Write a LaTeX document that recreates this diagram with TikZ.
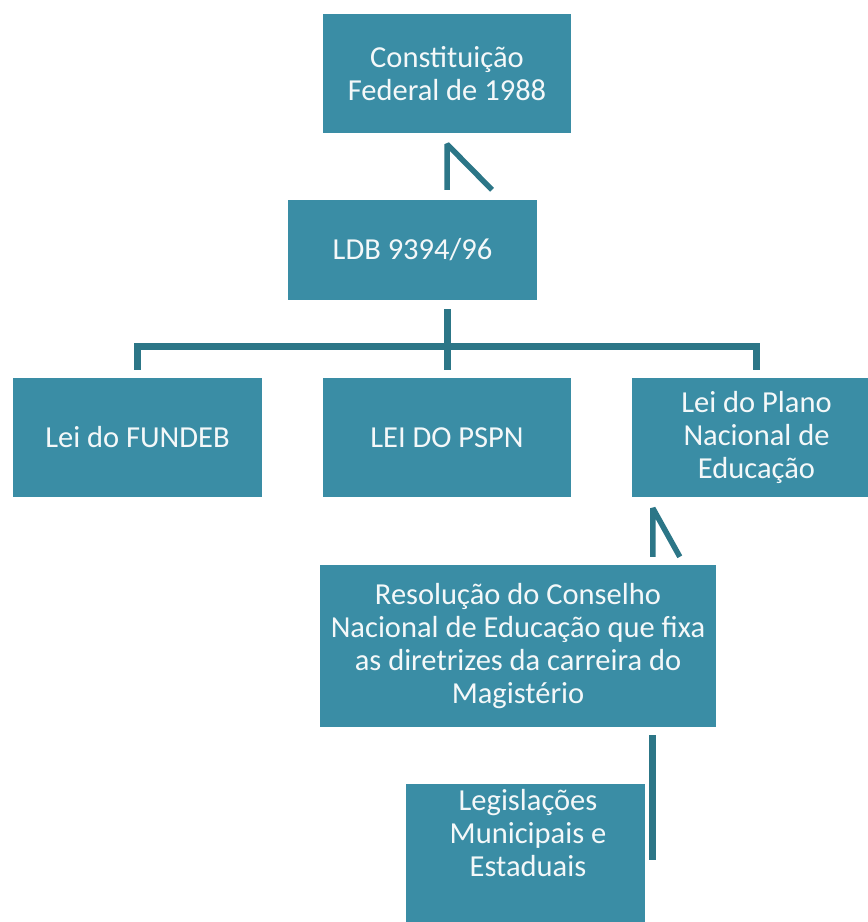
\documentclass[tikz,border=0pt]{standalone}
\usepackage{fontspec}
\setmainfont{Carlito}
\usetikzlibrary{calc}
\definecolor{boxteal}{HTML}{3A8DA5}
\definecolor{linkteal}{HTML}{2C7687}
\definecolor{boxfont}{HTML}{F4F8F9}

\begin{document}
\begin{tikzpicture}[x=1pt,y=-1pt,
    box/.style={fill=boxteal,draw=none,inner sep=0pt,text=boxfont,align=center,
        font=\fontsize{30.5}{33}\selectfont},
    boxtext/.style={inner sep=0pt,text=boxfont,align=center,
        font=\fontsize{30.5}{33}\selectfont},
    link/.style={draw=linkteal,line width=7pt,line join=miter},
    nlink/.style={draw=linkteal,line width=5.5pt,line join=bevel}]

    \useasboundingbox (0,0) rectangle (868,922);

    % nodes (laws)
    \node[box,minimum width=248,minimum height=119] (cf) at (447,73.5) {Constituição\\Federal de 1988};
    \node[box,minimum width=249,minimum height=100] (ldb) at (412.5,250) {LDB 9394/96};
    \node[box,minimum width=249,minimum height=119] (fundeb) at (137.5,437.5) {Lei do FUNDEB};
    \node[box,minimum width=248,minimum height=119] (pspn) at (447,437.5) {LEI DO PSPN};
    \node[box,minimum width=249,minimum height=119] (pne) at (756.5,437.5) {Lei do Plano\\Nacional de\\Educação};
    \node[box,minimum width=396,minimum height=162] (cne) at (518,646) {Resolução do Conselho\\Nacional de Educação que fixa\\as diretrizes da carreira do\\Magistério};
    \node[box,minimum width=239,minimum height=160,anchor=north] (leg) at (525.5,784) {};
    \node[boxtext] (legtxt) at (528,833) {Legislações\\Municipais e\\Estaduais};

    % helper points
    \coordinate (cfb) at (cf.south |- ldb.north);
    \coordinate (pnet) at ([xshift=21pt,yshift=-11pt]pne.south west);
    \coordinate (pneb) at (pnet |- cne.north);
    \coordinate (cnes) at (pnet |- cne.south);
    \coordinate (legn) at (pnet |- leg.north);

    % edges
    \draw[nlink] ([yshift=10pt]cfb) -- ([yshift=-11pt]cf.south) -- ([xshift=45pt,yshift=10pt]cfb); % cf -> ldb
    \draw[link] ([yshift=-9pt]ldb.south -| pspn.north) -- ([yshift=8pt]pspn.north); % ldb -> pspn
    \draw[link] ([yshift=8pt]fundeb.north) -- ([yshift=31pt]fundeb.north)
        -- ([yshift=31pt]pne.north) -- ([yshift=8pt]pne.north); % ldb -> fundeb, pne
    \draw[nlink] ([yshift=8pt]pneb) -- (pnet) -- ([xshift=27pt,yshift=8pt]pneb); % pne -> cne
    \draw[link] ([yshift=-8pt]cnes) -- ([yshift=-76pt]legn); % cne -> leg

\end{tikzpicture}
\end{document}
